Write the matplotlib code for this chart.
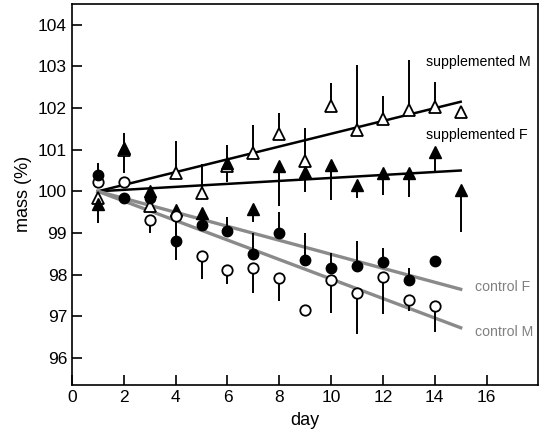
import numpy as np
import matplotlib
matplotlib.use("Agg")
import matplotlib.pyplot as plt

plt.rcParams["font.family"] = ["Liberation Sans", "DejaVu Sans"]

days15 = np.arange(1, 16)
days14 = np.arange(1, 15)

# supplemented M: open triangles, error bars up
supp_m = [99.85, 101.0, 99.65, 100.45, 99.95, 100.6, 100.92, 101.38, 100.73,
          102.05, 101.48, 101.74, 101.96, 102.03, 101.9]
supp_m_err = [0.0, 0.4, 0.0, 0.75, 0.7, 0.5, 0.67, 0.5, 0.8,
              0.55, 1.55, 0.55, 1.2, 0.6, 0.0]

# supplemented F: filled triangles, error bars down
supp_f = [99.7, 101.05, 100.0, 99.55, 99.47, 100.68, 99.58, 100.6, 100.47,
          100.63, 100.15, 100.44, 100.44, 100.95, 100.02]
supp_f_err = [0.45, 0.6, 0.0, 0.0, 0.3, 0.45, 0.32, 0.95, 0.48,
              0.83, 0.3, 0.52, 0.58, 0.5, 1.0]

# control F: filled circles, error bars up
ctrl_f = [100.38, 99.83, 99.85, 98.8, 99.2, 99.05, 98.5, 99.0, 98.35,
          98.16, 98.2, 98.3, 97.87, 98.33]
ctrl_f_err = [0.3, 0.0, 0.0, 0.35, 0.0, 0.33, 0.5, 0.5, 0.65,
              0.35, 0.6, 0.35, 0.3, 0.0]

# control M: open circles, error bars down
ctrl_m = [100.22, 100.22, 99.31, 99.4, 98.45, 98.1, 98.15, 97.92, 97.15,
          97.88, 97.55, 97.95, 97.4, 97.25]
ctrl_m_err = [0.0, 0.0, 0.3, 1.05, 0.55, 0.33, 0.6, 0.55, 0.0,
              0.8, 0.98, 0.9, 0.27, 0.62]

# regression lines: (intercept, slope), drawn from day 1 to day 15
fits = {
    "supplemented M": (99.846, 0.1536),
    "supplemented F": (99.964, 0.0357),
    "control F": (100.168, -0.168),
    "control M": (100.234, -0.234),
}
label_pos = {
    "supplemented M": (13.65, 103.1),
    "supplemented F": (13.65, 101.35),
    "control F": (15.55, 97.7),
    "control M": (15.55, 96.62),
}

fig = plt.figure(figsize=(5.45, 4.34), dpi=100)
ax = fig.add_axes([0.132, 0.113, 0.855, 0.878])

xfit = np.array([1, 15])
for name, (a, b) in fits.items():
    grey = name.startswith("control")
    ax.plot(xfit, a + b * xfit, color="#8a8a8a" if grey else "black",
            lw=2.4 if grey else 1.8, zorder=2)

ax.errorbar(days15, supp_m, yerr=[np.zeros(15), supp_m_err], fmt="none",
            ecolor="black", elinewidth=1.4, capsize=0, zorder=3)
ax.errorbar(days15, supp_f, yerr=[supp_f_err, np.zeros(15)], fmt="none",
            ecolor="black", elinewidth=1.4, capsize=0, zorder=3)
ax.errorbar(days14, ctrl_f, yerr=[np.zeros(14), ctrl_f_err], fmt="none",
            ecolor="black", elinewidth=1.4, capsize=0, zorder=3)
ax.errorbar(days14, ctrl_m, yerr=[ctrl_m_err, np.zeros(14)], fmt="none",
            ecolor="black", elinewidth=1.4, capsize=0, zorder=3)

ax.plot(days15, supp_m, "^", ms=9, mfc="white", mec="black", mew=1.3, ls="none", zorder=4)
ax.plot(days15, supp_f, "^", ms=9, mfc="black", mec="black", mew=1.0, ls="none", zorder=4)
ax.plot(days14, ctrl_m, "o", ms=7.5, mfc="white", mec="black", mew=1.3, ls="none", zorder=4)
ax.plot(days14, ctrl_f, "o", ms=7.5, mfc="black", mec="black", mew=1.0, ls="none", zorder=4)

for name, (x, y) in label_pos.items():
    grey = name.startswith("control")
    ax.text(x, y, name, fontsize=10.2, color="#808080" if grey else "black",
            va="center", ha="left")

ax.set_xlim(0, 17.98)
ax.set_ylim(95.35, 104.5)
ax.set_xticks(range(0, 17, 2))
ax.set_yticks(range(96, 105))
ax.tick_params(direction="in", length=7, width=1.2, labelsize=12.5)
for sp in ax.spines.values():
    sp.set_linewidth(1.2)
ax.set_xlabel("day", fontsize=13, labelpad=5)
ax.set_ylabel("mass (%)", fontsize=13, labelpad=4)

fig.savefig("out.png", dpi=100)
